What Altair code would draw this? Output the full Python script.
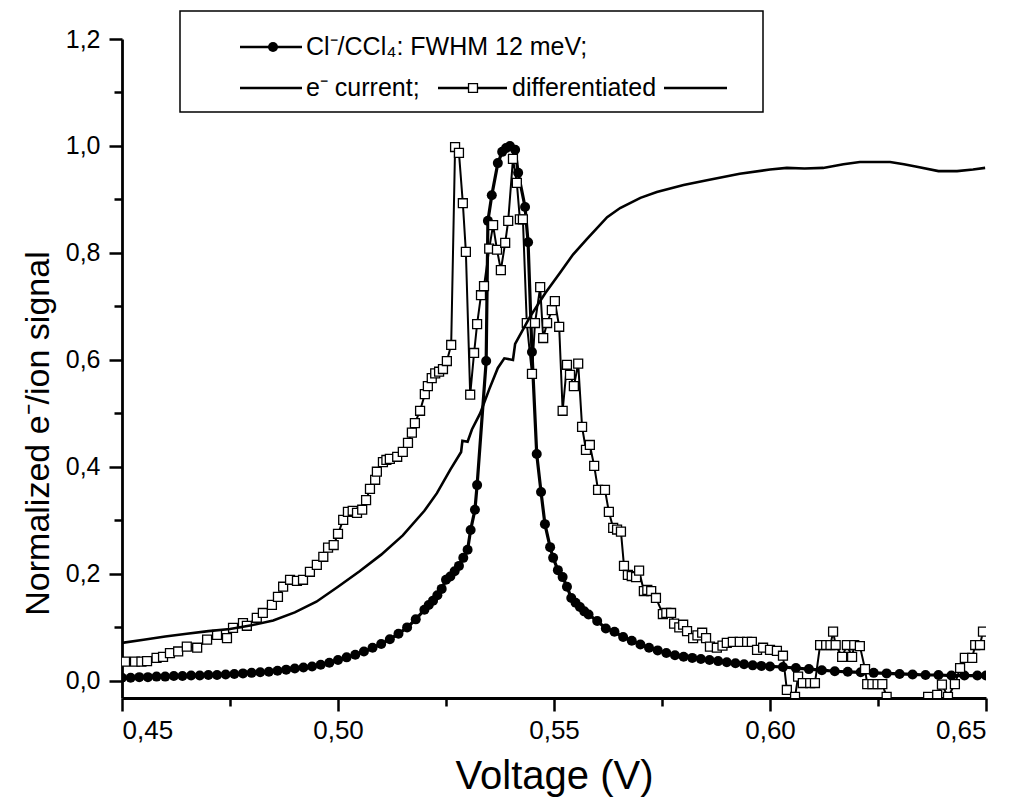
import altair as alt
import pandas as pd

# ---------------- data ----------------
ion_v = [0.450, 0.452, 0.454, 0.456, 0.458, 0.460, 0.462, 0.464, 0.466, 0.468,
         0.470, 0.472, 0.474, 0.476, 0.478, 0.480, 0.482, 0.484, 0.486, 0.488,
         0.490, 0.492, 0.494, 0.496, 0.498, 0.500, 0.502, 0.504, 0.506, 0.508,
         0.510, 0.512, 0.514, 0.516, 0.518, 0.520, 0.521, 0.522, 0.523, 0.524,
         0.525, 0.526, 0.527, 0.528, 0.529, 0.530, 0.5307, 0.5317, 0.5322, 0.5343,
         0.5347, 0.5356, 0.5370, 0.5380, 0.5389, 0.5398, 0.5410, 0.5417, 0.5433, 0.5440,
         0.5449, 0.5460, 0.5470, 0.5479, 0.5491, 0.5498, 0.5509, 0.5520, 0.5530, 0.5540,
         0.5550, 0.556, 0.557, 0.558, 0.560, 0.562, 0.564, 0.566, 0.568, 0.570,
         0.572, 0.574, 0.576, 0.578, 0.580, 0.582, 0.584, 0.586, 0.588, 0.590,
         0.592, 0.594, 0.596, 0.598, 0.600, 0.603, 0.606, 0.609, 0.612, 0.615,
         0.618, 0.621, 0.624, 0.627, 0.630, 0.633, 0.636, 0.639, 0.642, 0.645,
         0.648, 0.650]
ion_s = [0.006, 0.006, 0.007, 0.007, 0.008, 0.008, 0.009, 0.009, 0.010, 0.010,
         0.011, 0.011, 0.012, 0.013, 0.014, 0.015, 0.016, 0.017, 0.019, 0.021,
         0.023, 0.025, 0.027, 0.030, 0.034, 0.039, 0.044, 0.049, 0.055, 0.062,
         0.069, 0.078, 0.088, 0.100, 0.115, 0.133, 0.142, 0.150, 0.160, 0.172,
         0.189, 0.195, 0.205, 0.215, 0.230, 0.245, 0.282, 0.320, 0.366, 0.598,
         0.860, 0.908, 0.968, 0.989, 0.996, 1.000, 0.993, 0.950, 0.886, 0.820,
         0.615, 0.424, 0.353, 0.293, 0.250, 0.230, 0.207, 0.194, 0.176, 0.155,
         0.146, 0.138, 0.130, 0.124, 0.112, 0.098, 0.092, 0.082, 0.075, 0.068,
         0.062, 0.057, 0.052, 0.048, 0.045, 0.043, 0.041, 0.039, 0.037, 0.035,
         0.033, 0.031, 0.029, 0.028, 0.027, 0.026, 0.024, 0.022, 0.020, 0.018,
         0.017, 0.016, 0.015, 0.014, 0.013, 0.012, 0.011, 0.011, 0.010, 0.010,
         0.010, 0.010]

diff_v = [0.4507, 0.4530, 0.4545, 0.4558, 0.4580, 0.4595, 0.4611, 0.4630, 0.4650, 0.4674,
          0.4697, 0.4720, 0.4743, 0.4757, 0.4780, 0.4789, 0.4812, 0.4826, 0.4847, 0.4861,
          0.4873, 0.4889, 0.4905, 0.4919, 0.4935, 0.4951, 0.4966, 0.4977, 0.4990, 0.5000,
          0.5012, 0.5023, 0.5034, 0.5044, 0.5056, 0.5065, 0.5074, 0.5086, 0.5090, 0.5104,
          0.5112, 0.5120, 0.5137, 0.5150, 0.5162, 0.5171, 0.5178, 0.5190, 0.5201, 0.5208,
          0.5217, 0.5225, 0.5234, 0.5243, 0.5252, 0.5262, 0.5271, 0.5280, 0.5289, 0.5296,
          0.5306, 0.5315, 0.5322, 0.5331, 0.5338, 0.5350, 0.5359, 0.5368, 0.5377, 0.5387,
          0.5394, 0.5405, 0.5414, 0.5421, 0.5428, 0.5437, 0.5449, 0.5456, 0.5468, 0.5475,
          0.5484, 0.5495, 0.5502, 0.5512, 0.5520, 0.5530, 0.5537, 0.5546, 0.5556, 0.5565,
          0.5574, 0.5583, 0.5593, 0.5602, 0.5618, 0.5627, 0.5637, 0.5646, 0.5655, 0.5662,
          0.5671, 0.5680, 0.5690, 0.5697, 0.5708, 0.5716, 0.5725, 0.5736, 0.5752, 0.5760,
          0.5771, 0.5778, 0.5790, 0.5799, 0.5808, 0.5822, 0.5832, 0.5843, 0.5852, 0.5861,
          0.5877, 0.5890, 0.5900, 0.5914, 0.5930, 0.5947, 0.5958, 0.5970, 0.5984, 0.6000,
          0.6016, 0.6030, 0.6039, 0.6058, 0.6065, 0.6076, 0.6093, 0.6104, 0.6116, 0.6130,
          0.6140, 0.6146, 0.6152, 0.6167, 0.6178, 0.6190, 0.6195, 0.6208, 0.6220, 0.6225,
          0.6237, 0.6249, 0.6260, 0.6270, 0.6300, 0.6340, 0.6366, 0.6387, 0.6398, 0.6412,
          0.6428, 0.6440, 0.6451, 0.6468, 0.6475, 0.6486, 0.6493]
diff_s = [0.036, 0.036, 0.036, 0.037, 0.043, 0.045, 0.052, 0.055, 0.064, 0.062,
          0.077, 0.086, 0.080, 0.099, 0.108, 0.103, 0.118, 0.127, 0.142, 0.157,
          0.176, 0.189, 0.187, 0.189, 0.204, 0.217, 0.232, 0.249, 0.254, 0.275,
          0.301, 0.316, 0.318, 0.314, 0.320, 0.338, 0.359, 0.376, 0.391, 0.409,
          0.413, 0.415, 0.419, 0.428, 0.445, 0.464, 0.482, 0.505, 0.536, 0.551,
          0.566, 0.575, 0.578, 0.583, 0.598, 0.628, 0.998, 0.987, 0.893, 0.802,
          0.535, 0.613, 0.667, 0.721, 0.738, 0.808, 0.852, 0.806, 0.768, 0.819,
          0.860, 0.976, 0.931, 0.863, 0.863, 0.669, 0.574, 0.669, 0.736, 0.641,
          0.669, 0.693, 0.710, 0.662, 0.505, 0.591, 0.572, 0.551, 0.593, 0.475,
          0.432, 0.441, 0.402, 0.357, 0.357, 0.316, 0.286, 0.283, 0.279, 0.215,
          0.198, 0.196, 0.194, 0.206, 0.168, 0.170, 0.168, 0.155, 0.125, 0.127,
          0.127, 0.107, 0.100, 0.105, 0.093, 0.080, 0.085, 0.090, 0.080, 0.064,
          0.062, 0.066, 0.071, 0.073, 0.073, 0.073, 0.073, 0.058, 0.062, 0.058,
          0.056, 0.047, -0.017, -0.030, 0.008, -0.004, -0.004, -0.004, 0.067, 0.067,
          0.067, 0.092, 0.067, 0.045, 0.067, 0.045, 0.067, 0.065, 0.022, -0.006,
          -0.006, -0.006, -0.006, -0.030, -0.060, -0.060, -0.030, -0.026, -0.007, -0.030,
          -0.006, 0.024, 0.043, 0.043, 0.067, 0.067, 0.092]

cur_v = [0.450, 0.455, 0.460, 0.465, 0.470, 0.475, 0.480, 0.485, 0.490, 0.495,
         0.500, 0.505, 0.510, 0.515, 0.520, 0.5229, 0.5260, 0.5285, 0.5300, 0.5288,
         0.5310, 0.5329, 0.5350, 0.5370, 0.5405, 0.5385, 0.5410, 0.5444, 0.5480, 0.5514,
         0.5544, 0.5576, 0.5623, 0.5653, 0.5700, 0.5738, 0.5800, 0.5854, 0.5930, 0.6000,
         0.6039, 0.6080, 0.6123, 0.6170, 0.6208, 0.6278, 0.6310, 0.6340, 0.6390, 0.6433,
         0.6470, 0.6498]
cur_s = [0.071, 0.077, 0.083, 0.088, 0.093, 0.097, 0.104, 0.113, 0.128, 0.148,
         0.176, 0.205, 0.236, 0.272, 0.318, 0.351, 0.395, 0.428, 0.447, 0.449,
         0.470, 0.500, 0.545, 0.585, 0.600, 0.603, 0.630, 0.680, 0.725, 0.763,
         0.797, 0.826, 0.867, 0.884, 0.903, 0.914, 0.927, 0.936, 0.948, 0.956,
         0.959, 0.958, 0.959, 0.966, 0.970, 0.970, 0.966, 0.961, 0.953, 0.953,
         0.956, 0.959]

x_major = [0.45, 0.50, 0.55, 0.60, 0.65]
x_minor = [0.475, 0.525, 0.575, 0.625]
y_major = [0.0, 0.2, 0.4, 0.6, 0.8, 1.0, 1.2]
y_minor = [0.1, 0.3, 0.5, 0.7, 0.9, 1.1]

legend_line1 = "Cl\u207b/CCl\u2084: FWHM 12 meV;"
legend_cur = "e\u207b current;"
legend_diff = "differentiated"
x_title = "Voltage (V)"
y_title = "Normalized e\u207b/ion signal"

# ---------------- chart ----------------
FONT = "Liberation Sans, Arial, Helvetica, sans-serif"
W, H = 864, 659

ion = pd.DataFrame({"v": ion_v, "s": ion_s})
dif = pd.DataFrame({"v": diff_v, "s": diff_s})
cur = pd.DataFrame({"v": cur_v, "s": cur_s})

xs = alt.Scale(domain=[0.45, 0.65], nice=False, zero=False)
ys = alt.Scale(domain=[-0.032, 1.2], nice=False, zero=False)

comma = "replace(datum.label, '.', ',')"
ax_major = alt.Axis(values=x_major, format=".2f", labelExpr=comma, title=x_title,
                    grid=False, orient="bottom", tickSize=13, tickWidth=2.5,
                    domainWidth=2.8, domainColor="black", tickColor="black",
                    labelFont=FONT, labelFontSize=26, labelColor="black",
                    labelPadding=6, titleFont=FONT, titleFontSize=40,
                    titleFontWeight="normal", titleColor="black", titlePadding=13)
ay_major = alt.Axis(values=y_major, format=".1f", labelExpr=comma, title=y_title,
                    grid=False, orient="left", tickSize=13, tickWidth=2.5,
                    domainWidth=2.8, domainColor="black", tickColor="black",
                    labelFont=FONT, labelFontSize=25, labelColor="black",
                    labelPadding=9, titleFont=FONT, titleFontSize=34,
                    titleFontWeight="normal", titleColor="black",
                    titleX=-84, titleY=394, titleAlign="center",
                    titleBaseline="middle", titleAngle=270)
ax_minor = alt.Axis(values=x_minor, labels=False, title=None, grid=False,
                    orient="bottom", tickSize=8, tickWidth=2.5, domain=False,
                    tickColor="black")
ay_minor = alt.Axis(values=y_minor, labels=False, title=None, grid=False,
                    orient="left", tickSize=8, tickWidth=2.5, domain=False,
                    tickColor="black")

ion_line = alt.Chart(ion).mark_line(color="black", strokeWidth=3.2, clip=True).encode(
    x=alt.X("v:Q", scale=xs, axis=ax_major),
    y=alt.Y("s:Q", scale=ys, axis=ay_major))
ion_pts = alt.Chart(ion).mark_circle(color="black", opacity=1, size=100, clip=True).encode(
    x=alt.X("v:Q", scale=xs, axis=ax_minor),
    y=alt.Y("s:Q", scale=ys, axis=ay_minor))
dif_line = alt.Chart(dif).mark_line(color="black", strokeWidth=2, clip=True).encode(
    x=alt.X("v:Q", scale=xs, axis=None),
    y=alt.Y("s:Q", scale=ys, axis=None))
dif_pts = alt.Chart(dif).mark_point(shape="square", filled=True, fill="white",
                                    stroke="black", strokeWidth=1.3, size=80,
                                    opacity=1, clip=True).encode(
    x=alt.X("v:Q", scale=xs, axis=None),
    y=alt.Y("s:Q", scale=ys, axis=None))
cur_line = alt.Chart(cur).mark_line(color="black", strokeWidth=2.6, clip=True).encode(
    x=alt.X("v:Q", scale=xs, axis=None),
    y=alt.Y("s:Q", scale=ys, axis=None))

# ---------------- custom legend (pixel positions relative to plot area) ----------------
one = pd.DataFrame({"k": [0]})
base = alt.Chart(one)
L1, L2 = 8, 49
box = base.mark_rect(fill="white", stroke="black", strokeWidth=1.5).encode(
    x=alt.value(58), x2=alt.value(641), y=alt.value(-28), y2=alt.value(73))
sym_lines = [
    base.mark_rule(color="black", strokeWidth=2.6).encode(
        x=alt.value(x1), x2=alt.value(x2), y=alt.value(yy))
    for (x1, x2, yy) in [(118, 180, L1), (118, 180, L2), (316, 385, L2), (542, 605, L2)]
]
sym_dot = base.mark_circle(color="black", opacity=1, size=100).encode(
    x=alt.value(151), y=alt.value(L1))
sym_sq = base.mark_point(shape="square", filled=True, fill="white", stroke="black",
                         strokeWidth=1.3, size=80, opacity=1).encode(
    x=alt.value(351), y=alt.value(L2))
txt_kw = dict(font=FONT, fontSize=25, color="black", align="left", baseline="middle")
t1 = base.mark_text(**txt_kw).encode(x=alt.value(184), y=alt.value(L1), text=alt.value(legend_line1))
t2 = base.mark_text(**txt_kw).encode(x=alt.value(184), y=alt.value(L2), text=alt.value(legend_cur))
t3 = base.mark_text(**txt_kw).encode(x=alt.value(390), y=alt.value(L2), text=alt.value(legend_diff))

chart = alt.layer(ion_line, ion_pts, dif_line, dif_pts, cur_line,
                  box, *sym_lines, sym_dot, sym_sq, t1, t2, t3).resolve_axis(
    x="independent", y="independent").properties(
    width=W, height=H,
    padding={"left": 122, "top": 39, "right": 26, "bottom": 104},
    autosize=alt.AutoSizeParams(type="none"),
    background="white").configure_view(stroke=None)

chart.save("out.html", embed_options={"renderer": "svg", "actions": False})
